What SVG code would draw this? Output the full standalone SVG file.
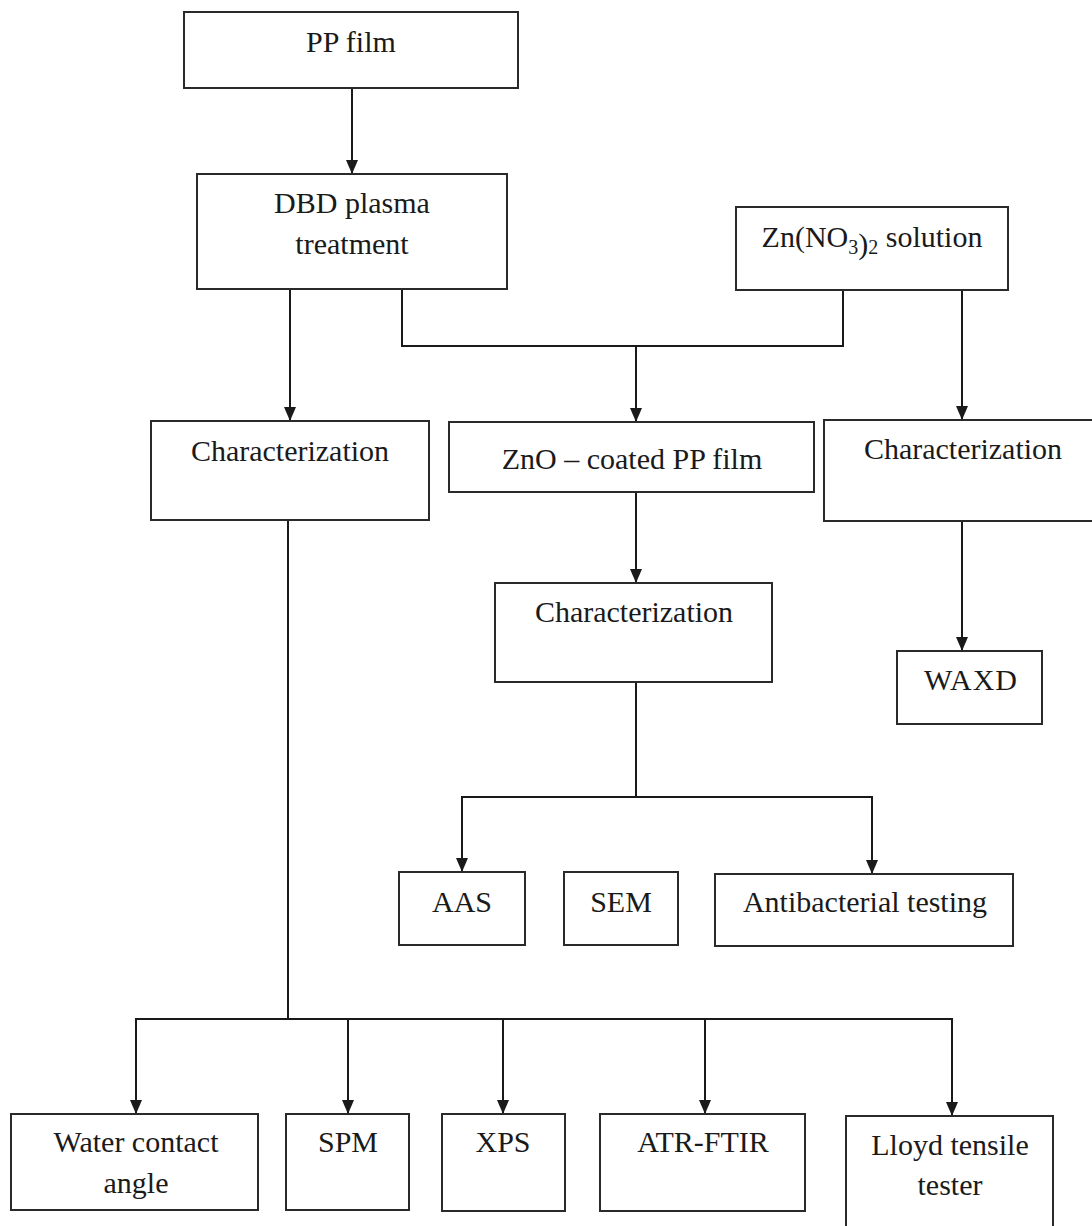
<svg xmlns="http://www.w3.org/2000/svg" width="1092" height="1226" viewBox="0 0 1092 1226">
<style>
.box{fill:#fff;stroke:#2a2a2a;stroke-width:2}
.t{font-family:"Liberation Serif","Times New Roman",serif;font-size:30px;fill:#1a1a1a;text-anchor:middle}
.c{fill:none;stroke:#1a1a1a;stroke-width:2}
.a{fill:none;stroke:#1a1a1a;stroke-width:2;marker-end:url(#ah)}
</style>
<defs>
<marker id="ah" viewBox="0 0 14 12" refX="14" refY="6" markerWidth="14" markerHeight="12" markerUnits="userSpaceOnUse" orient="auto">
<path d="M0,0 L14,6 L0,12 z" fill="#1a1a1a"/>
</marker>
</defs>
<rect width="1092" height="1226" fill="#fff"/>
<g id="connectors">
<line class="a" x1="352" y1="88" x2="352" y2="174"/>
<line class="a" x1="290" y1="289" x2="290" y2="421"/>
<polyline class="c" points="402,289 402,346 843,346 843,290"/>
<line class="a" x1="636" y1="346" x2="636" y2="422"/>
<line class="a" x1="962" y1="290" x2="962" y2="420"/>
<line class="a" x1="962" y1="521" x2="962" y2="651"/>
<line class="a" x1="636" y1="492" x2="636" y2="583"/>
<polyline class="c" points="636,682 636,797"/>
<polyline class="a" points="636,797 462,797 462,872"/>
<polyline class="a" points="636,797 872,797 872,874"/>
<line class="c" x1="288" y1="520" x2="288" y2="1019"/>
<polyline class="a" points="288,1019 136,1019 136,1114"/>
<polyline class="a" points="288,1019 952,1019 952,1116"/>
<line class="a" x1="348" y1="1019" x2="348" y2="1114"/>
<line class="a" x1="503" y1="1019" x2="503" y2="1114"/>
<line class="a" x1="705" y1="1019" x2="705" y2="1114"/>
</g>
<g id="pp-film"><rect class="box" x="184" y="12" width="334" height="76"/><text class="t" x="351" y="52">PP film</text></g>
<g id="dbd"><rect class="box" x="197" y="174" width="310" height="115"/><text class="t" x="352" y="213">DBD plasma</text><text class="t" x="352" y="254">treatment</text></g>
<g id="zn-solution"><rect class="box" x="736" y="207" width="272" height="83"/><text class="t" x="872" y="247">Zn(NO<tspan font-size="20" dy="7">3</tspan><tspan dy="0">)</tspan><tspan font-size="20" dy="0">2</tspan><tspan dy="-7"> solution</tspan></text></g>
<g id="char-left"><rect class="box" x="151" y="421" width="278" height="99"/><text class="t" x="290" y="461">Characterization</text></g>
<g id="zno-film"><rect class="box" x="449" y="422" width="365" height="70"/><text class="t" x="632" y="469">ZnO – coated PP film</text></g>
<g id="char-right"><rect class="box" x="824" y="420" width="280" height="101"/><text class="t" x="963" y="459">Characterization</text></g>
<g id="char-mid"><rect class="box" x="495" y="583" width="277" height="99"/><text class="t" x="634" y="622">Characterization</text></g>
<g id="waxd"><rect class="box" x="897" y="651" width="145" height="73"/><text class="t" x="971" y="690" letter-spacing="1">WAXD</text></g>
<g id="aas"><rect class="box" x="399" y="872" width="126" height="73"/><text class="t" x="462" y="912">AAS</text></g>
<g id="sem"><rect class="box" x="564" y="872" width="114" height="73"/><text class="t" x="621" y="912">SEM</text></g>
<g id="antibacterial"><rect class="box" x="715" y="874" width="298" height="72"/><text class="t" x="865" y="912">Antibacterial testing</text></g>
<g id="water"><rect class="box" x="11" y="1114" width="247" height="96"/><text class="t" x="136" y="1152">Water contact</text><text class="t" x="136" y="1193">angle</text></g>
<g id="spm"><rect class="box" x="286" y="1114" width="123" height="96"/><text class="t" x="348" y="1152">SPM</text></g>
<g id="xps"><rect class="box" x="442" y="1114" width="123" height="97"/><text class="t" x="503" y="1152">XPS</text></g>
<g id="atr"><rect class="box" x="600" y="1114" width="205" height="97"/><text class="t" x="703" y="1152">ATR-FTIR</text></g>
<g id="lloyd"><rect class="box" x="846" y="1116" width="207" height="120"/><text class="t" x="950" y="1155">Lloyd tensile</text><text class="t" x="950" y="1195">tester</text></g>
</svg>
